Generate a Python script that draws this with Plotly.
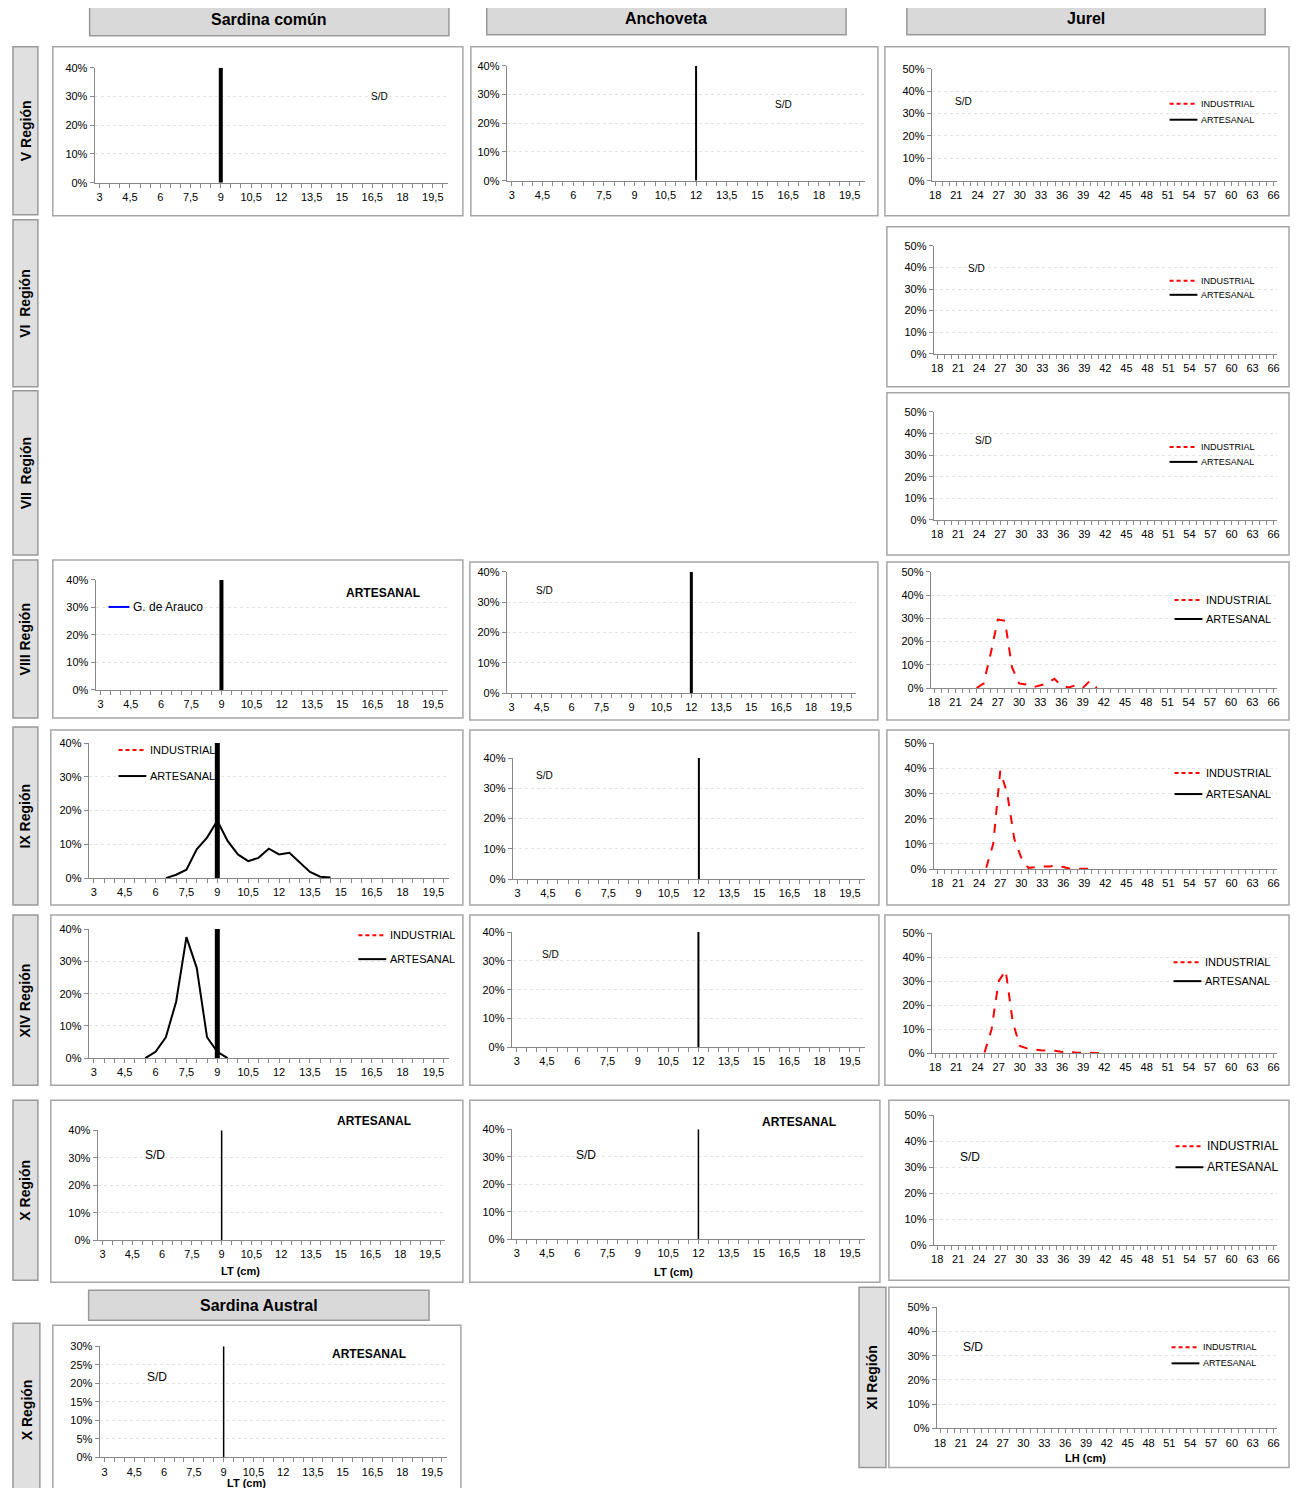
import plotly.graph_objects as go

W, H = 1301, 1496
OFF = 8  # page margin around the plot div
FW, FH = W - 2 * OFF, H - 2 * OFF
RX = 1292  # right edge of the visible page

# ---- data (percent) ----
sard_ix_x = [6.5, 7, 7.5, 8, 8.5, 9, 9.5, 10, 10.5, 11, 11.5, 12, 12.5, 13, 13.5, 14, 14.5]
sard_ix_art = [0, 1, 2.5, 8.5, 12, 17, 11, 7, 5, 6, 8.7, 7, 7.5, 4.5, 1.8, 0.4, 0.2]
sard_xiv_x = [5.5, 6, 6.5, 7, 7.5, 8, 8.5, 9, 9.5]
sard_xiv_art = [0, 2, 6.5, 17.5, 37.5, 28, 6.5, 2, 0]
jur_viii_x = list(range(24, 42))
jur_viii_ind = [0, 2, 15, 29.5, 29, 9, 2, 1.5, 0.3, 1, 2, 4, 1, 0.2, 1.2, 0, 3, 0]
jur_ix_x = list(range(25, 41))
jur_ix_ind = [0.5, 10, 39, 30, 12, 4.5, 0.5, 0.8, 1, 1, 1.5, 0.8, 0.1, 0.1, 0.2, 0.2]
jur_xiv_x = list(range(25, 43))
jur_xiv_ind = [0.3, 10, 30, 34.5, 13, 3, 2, 1.5, 1.2, 1, 1, 0.5, 0.8, 0.2, 0.1, 0.1, 0.1, 0.2]
talla_min = {"sard": 9, "anch": 12}

sard_ticks = [3 + 1.5 * i for i in range(12)]
jur_ticks = list(range(18, 67, 3))


def fmt(v):
    return (("%g" % v).replace(".", ","))


def px(x):
    return (x - OFF) / FW


def py(y):
    y = (y - 6.4) / 0.9914  # empirical correction of the vertical placement
    return 1 - (y - OFF) / FH


def clamp(v):
    return min(1, max(0, v))


fig = go.Figure()
shapes, annots = [], []
GREY = "#a6a6a6"


def box(x0, y0, x1, y1, fill="white", line=GREY):
    shapes.append(dict(type="rect", xref="paper", yref="paper", x0=px(x0), x1=px(x1),
                       y0=py(y1), y1=py(y0), fillcolor=fill, line=dict(color=line, width=1.5), layer="below"))


def text(x, y, s, size=10, bold=False, angle=0, anchor="center"):
    annots.append(dict(xref="paper", yref="paper", x=px(x), y=py(y), text=f"<b>{s}</b>" if bold else s,
                       showarrow=False, textangle=angle, xanchor=anchor, yanchor="middle",
                       font=dict(size=size, color="black", family="Liberation Sans")))


def legend(xl, xt, y1, y2, size=9):
    for y, col, dash, lab in [(y1, "red", "4px,3px", "INDUSTRIAL"), (y2, "black", "solid", "ARTESANAL")]:
        shapes.append(dict(type="line", xref="paper", yref="paper", x0=px(xl), x1=px(xt - 2),
                           y0=py(y), y1=py(y), line=dict(color=col, width=2, dash=dash)))
        text(xt, y, lab, size, anchor="left")


n = [0]


def panel(outer, plot, kind, ymax=40, dtick=10, series=(), vline=None, vw=4):
    n[0] += 1
    i = n[0]
    box(*outer)
    x0, x1, yt, yb = plot
    if kind == "jur":
        rng, tv, minor = [17.5, 66.5], jur_ticks, 1
    else:
        rng, tv, minor = [2.75, 20.25], sard_ticks, 0.5
    fig.layout[f"xaxis{i}"] = dict(domain=[clamp(px(x0)), clamp(px(x1))], anchor=f"y{i}", range=rng,
                                   tickvals=tv, ticktext=[fmt(v) for v in tv], ticks="outside", ticklen=4,
                                   tickcolor="#888", showline=True, linecolor="#888", showgrid=False,
                                   zeroline=False, minor=dict(dtick=minor, ticks="outside", ticklen=4,
                                                              tickcolor="#888"),
                                   tickfont=dict(size=11, family="Liberation Sans", color="black"))
    fig.layout[f"yaxis{i}"] = dict(domain=[clamp(py(yb)), clamp(py(yt))], anchor=f"x{i}", range=[0, ymax],
                                   dtick=dtick, ticksuffix="%", showline=True, linecolor="#888",
                                   ticks="outside", ticklen=4, tickcolor="#888", gridcolor="#e4e4e4",
                                   griddash="dot", zeroline=False,
                                   tickfont=dict(size=11, family="Liberation Sans", color="black"))
    # empty trace so the axes always render
    fig.add_trace(go.Scatter(x=[None], y=[None], mode="lines", xaxis=f"x{i}", yaxis=f"y{i}",
                             showlegend=False, hoverinfo="skip"))
    for xs, ys, col, dash in series:
        fig.add_trace(go.Scatter(x=xs, y=ys, mode="lines", line=dict(color=col, width=2, dash=dash),
                                 xaxis=f"x{i}", yaxis=f"y{i}", showlegend=False))
    if vline is not None:
        fig.add_trace(go.Scatter(x=[vline, vline], y=[0, ymax], mode="lines", line=dict(color="black", width=vw),
                                 xaxis=f"x{i}", yaxis=f"y{i}", showlegend=False))


# headers
for x0, x1, y0, y1, s in [(87, 448, 4, 36, "Sardina común"), (486, 847, 3, 35, "Anchoveta"),
                          (908, 1268, 2, 35, "Jurel"), (86, 428, 1290, 1320, "Sardina Austral")]:
    box(x0, y0, x1, y1, fill="#d9d9d9", line="#999999")
    text((x0 + x1) / 2, (y0 + y1) / 2, s, 16, bold=True)
for x0, x1, y0, y1, s in [(10, 35, 47, 215, "V Región"), (10, 35, 220, 387, "VI  Región"),
                          (10, 35, 391, 555, "VII  Región"), (10, 35, 560, 718, "VIII Región"),
                          (10, 35, 727, 905, "IX Región"), (10, 35, 915, 1085, "XIV Región"),
                          (10, 35, 1100, 1280, "X Región"), (10, 37, 1323, 1496, "X Región"),
                          (860, 887, 1287, 1467, "XI Región")]:
    box(x0, y0, x1, y1, fill="#e0e0e0", line="#999999")
    text((x0 + x1) / 2, (y0 + y1) / 2, s, 14, bold=True, angle=-90)

red = ("red", "dash")
blk = ("black", "solid")

# V
panel((50, 47, 462, 216), (92, 447, 68, 183), "sard", vline=talla_min["sard"])
text(378, 97, "S/D")
panel((470, 47, 879, 216), (506, 866, 66, 181), "sard", vline=talla_min["anch"], vw=2)
text(784, 105, "S/D")
panel((886, 47, RX, 216), (933, 1280, 69, 181), "jur", 50)
text(965, 102, "S/D"); legend(1172, 1202, 104, 120)
# VI, VII
panel((888, 227, RX, 387), (935, 1280, 246, 354), "jur", 50)
text(978, 269, "S/D"); legend(1172, 1202, 281, 295)
panel((888, 393, RX, 555), (935, 1280, 412, 520), "jur", 50)
text(985, 441, "S/D"); legend(1172, 1202, 447, 462)
# VIII
panel((50, 560, 462, 718), (93, 447, 580, 690), "sard", vline=talla_min["sard"])
text(382, 593, "ARTESANAL", 12, bold=True)
shapes.append(dict(type="line", xref="paper", yref="paper", x0=px(106), x1=px(127), y0=py(607), y1=py(607),
                   line=dict(color="blue", width=2)))
text(129, 607, "G. de Arauco", 12, anchor="left")
panel((469, 562, 879, 720), (506, 857, 572, 693), "sard", vline=talla_min["anch"], vw=3)
text(544, 591, "S/D")
panel((888, 562, RX, 720), (932, 1280, 572, 688), "jur", 50,
      series=[(jur_viii_x, jur_viii_ind, *red)])
legend(1177, 1207, 600, 619, 11)
# IX
panel((48, 730, 462, 905), (86, 448, 743, 878), "sard", vline=talla_min["sard"], vw=5,
      series=[(sard_ix_x, sard_ix_art, *blk)])
legend(116, 146, 750, 776, 11)
panel((469, 730, 880, 905), (512, 866, 758, 879), "sard", vline=talla_min["anch"], vw=2)
text(544, 775, "S/D")
panel((888, 730, RX, 905), (935, 1280, 743, 869), "jur", 50,
      series=[(jur_ix_x, jur_ix_ind, *red)])
legend(1177, 1207, 773, 794, 11)
# XIV
panel((48, 915, 462, 1085), (86, 448, 929, 1058), "sard", vline=talla_min["sard"], vw=5,
      series=[(sard_xiv_x, sard_xiv_art, *blk)])
legend(357, 387, 935, 959, 11)
panel((469, 915, 880, 1085), (511, 866, 932, 1047), "sard", vline=talla_min["anch"], vw=2)
text(550, 954, "S/D")
panel((886, 915, RX, 1085), (933, 1280, 933, 1053), "jur", 50,
      series=[(jur_xiv_x, jur_xiv_ind, *red)])
legend(1176, 1206, 962, 981, 11)
# X
panel((48, 1100, 462, 1282), (95, 444, 1130, 1240), "sard", vline=talla_min["sard"], vw=1.5)
text(153, 1155, "S/D", 12); text(373, 1121, "ARTESANAL", 12, bold=True); text(239, 1271, "LT (cm)", 11, bold=True)
panel((469, 1100, 881, 1282), (511, 866, 1129, 1239), "sard", vline=talla_min["anch"], vw=1.5)
text(586, 1155, "S/D", 12); text(800, 1122, "ARTESANAL", 12, bold=True); text(674, 1272, "LT (cm)", 11, bold=True)
panel((890, 1100, RX, 1280), (935, 1280, 1115, 1245), "jur", 50)
text(972, 1157, "S/D", 12); legend(1178, 1208, 1146, 1167, 12)
# Austral, XI
panel((50, 1325, 460, 1496), (97, 446, 1346, 1457), "sard", 30, 5, vline=talla_min["sard"], vw=1.5)
text(155, 1377, "S/D", 12); text(368, 1354, "ARTESANAL", 12, bold=True); text(245, 1483, "LT (cm)", 11, bold=True)
panel((890, 1287, RX, 1467), (938, 1280, 1307, 1428), "jur", 50)
text(975, 1347, "S/D", 12); legend(1174, 1204, 1347, 1363, 9); text(1088, 1458, "LH (cm)", 11, bold=True)

fig.update_layout(width=FW, height=FH, margin=dict(l=0, r=0, t=0, b=0), plot_bgcolor="white",
                  paper_bgcolor="white", shapes=shapes, annotations=annots, showlegend=False)
fig.write_html("out.html")
